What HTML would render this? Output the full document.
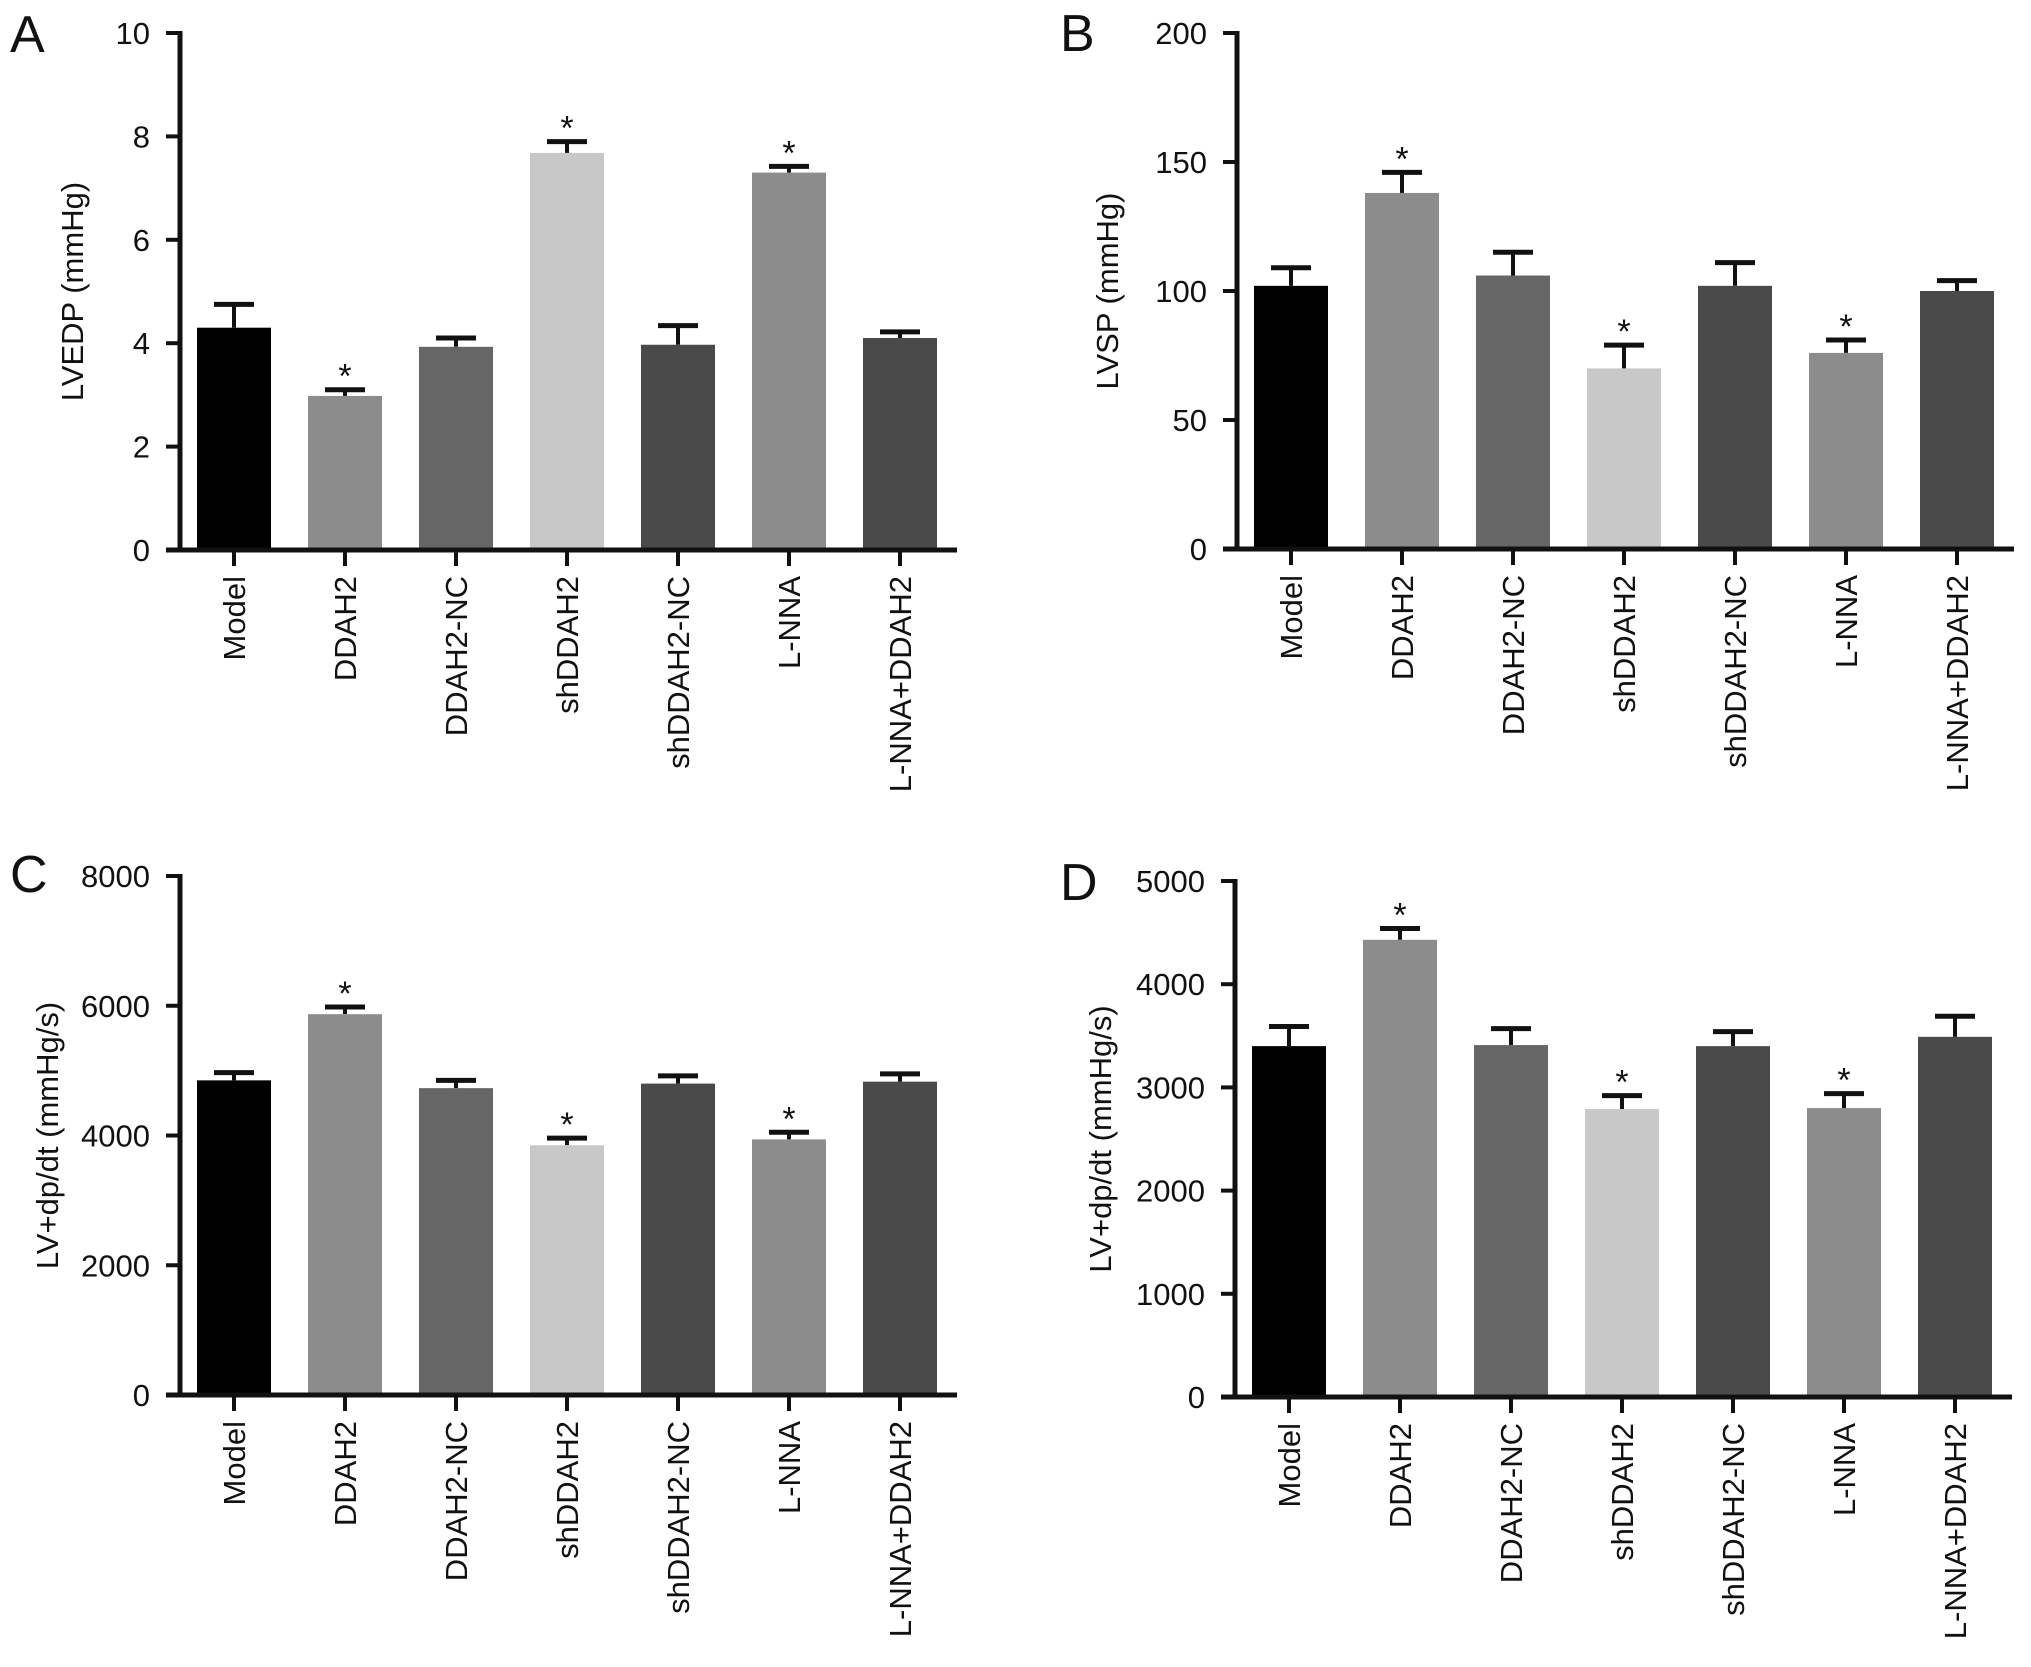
<!DOCTYPE html>
<html><head><meta charset="utf-8">
<style>
html,body{margin:0;padding:0;background:#fff;}
svg{display:block;font-family:"Liberation Sans",Arial,sans-serif;}
</style></head>
<body>
<svg id="fig" width="2031" height="1667" viewBox="0 0 2031 1667" xmlns="http://www.w3.org/2000/svg"></svg>
<script>
const categories = ["Model","DDAH2","DDAH2-NC","shDDAH2","shDDAH2-NC","L-NNA","L-NNA+DDAH2"];
const barColors = ["#000000","#8c8c8c","#666666","#c8c8c8","#4a4a4a","#8c8c8c","#4a4a4a"];
const valuesA = [4.3,2.98,3.93,7.68,3.97,7.3,4.1];
const errorsA = [0.45,0.12,0.17,0.22,0.37,0.12,0.12];
const sigA = [0,1,0,1,0,1,0];
const ticksA = [0,2,4,6,8,10];
const valuesB = [102,138,106,70,102,76,100];
const errorsB = [7,8,9,9,9,5,4];
const sigB = [0,1,0,1,0,1,0];
const ticksB = [0,50,100,150,200];
const valuesC = [4850,5870,4730,3850,4800,3940,4830];
const errorsC = [120,110,120,110,120,110,120];
const sigC = [0,1,0,1,0,1,0];
const ticksC = [0,2000,4000,6000,8000];
const valuesD = [3400,4430,3410,2790,3400,2800,3490];
const errorsD = [190,110,160,130,140,140,200];
const sigD = [0,1,0,1,0,1,0];
const ticksD = [0,1000,2000,3000,4000,5000];

const NS="http://www.w3.org/2000/svg";
const svg=document.getElementById('fig');
function mk(tag,attrs,parent){const e=document.createElementNS(NS,tag);for(const k in attrs)e.setAttribute(k,attrs[k]);(parent||svg).appendChild(e);return e;}

function panel(cfg){
  const g=mk('g',{});
  
  
  const ymax=cfg.ticks[cfg.ticks.length-1];
  const y=v=>cfg.y0-(v/ymax)*(cfg.y0-cfg.yTop);
  const x=i=>cfg.ax+54+i*111;
  const bw=74;
  const L=mk('text',{x:cfg.lx,y:cfg.ly,'font-size':52,fill:'#111'},g);L.textContent=cfg.letter;
  
  
  cfg.values.forEach((v,i)=>{
    const top=y(v+cfg.errors[i]);
    const el=mk('line',{x1:x(i),x2:x(i),y1:y(v),y2:top,stroke:'#111','stroke-width':4},g);
    
    
    const cap=mk('line',{x1:x(i)-20,x2:x(i)+20,y1:top,y2:top,stroke:'#111','stroke-width':5},g);
    
    
    const r=mk('rect',{x:x(i)-bw/2,y:y(v),width:bw,height:cfg.y0-y(v),fill:barColors[i]},g);
    
    
    if(cfg.sig[i]){
      const s=mk('text',{x:x(i),y:top-2,'font-size':34,'text-anchor':'middle',fill:'#111'},g);s.textContent='*';
      
      
    }
    const tk=mk('line',{x1:x(i),x2:x(i),y1:cfg.y0,y2:cfg.y0+16,stroke:'#111','stroke-width':4},g);
    
    
    const t=mk('text',{transform:`translate(${x(i)+11},${cfg.y0+26}) rotate(-90)`,'font-size':31,'text-anchor':'end',fill:'#111'},g);
    t.textContent=categories[i];
    
    
  });
  const ya=mk('line',{x1:cfg.ax,x2:cfg.ax,y1:cfg.yTop-2,y2:cfg.y0+2,stroke:'#111','stroke-width':5},g);
  
  
  const xa=mk('line',{x1:cfg.ax-14,x2:cfg.ax+777,y1:cfg.y0,y2:cfg.y0,stroke:'#111','stroke-width':5},g);
  
  
  cfg.ticks.forEach(t=>{
    const l=mk('line',{x1:cfg.ax-14,x2:cfg.ax,y1:y(t),y2:y(t),stroke:'#111','stroke-width':4},g);
    
    
    const tx=mk('text',{x:cfg.ax-30,y:y(t)+11,'font-size':31,'text-anchor':'end',fill:'#111'},g);tx.textContent=t;
    
    
  });
  const yt=mk('text',{transform:`translate(${cfg.tx},${(cfg.y0+cfg.yTop)/2}) rotate(-90)`,'font-size':31,'text-anchor':'middle',fill:'#111'},g);
  yt.textContent=cfg.title;
  
  
}
panel({letter:'A',lx:10,ly:52,ax:180,y0:550,yTop:33,values:valuesA,errors:errorsA,sig:sigA,ticks:ticksA,title:'LVEDP (mmHg)',tx:83});
panel({letter:'B',lx:1060,ly:51,ax:1237,y0:549,yTop:33,values:valuesB,errors:errorsB,sig:sigB,ticks:ticksB,title:'LVSP (mmHg)',tx:1118});
panel({letter:'C',lx:10,ly:892,ax:180,y0:1395,yTop:876,values:valuesC,errors:errorsC,sig:sigC,ticks:ticksC,title:'LV+dp/dt (mmHg/s)',tx:58});
panel({letter:'D',lx:1060,ly:900,ax:1235,y0:1397,yTop:881,values:valuesD,errors:errorsD,sig:sigD,ticks:ticksD,title:'LV+dp/dt (mmHg/s)',tx:1111});
</script>
</body></html>
